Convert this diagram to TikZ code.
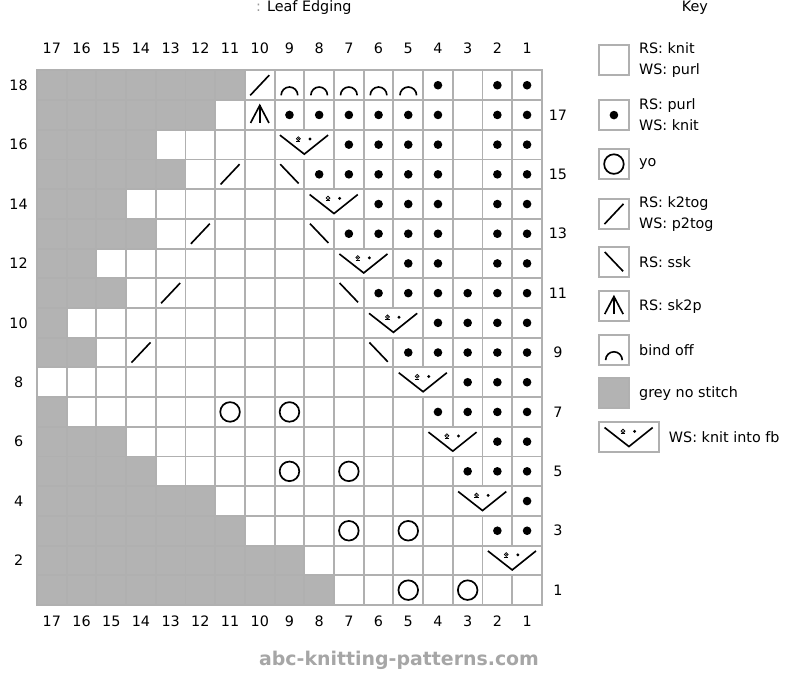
\documentclass[tikz,border=0pt]{standalone}
\usepackage{fontspec}
\setmainfont{DejaVu Sans}
\usetikzlibrary{positioning}
\definecolor{gridgrey}{HTML}{B0B0B0}
\definecolor{nostitch}{HTML}{B3B3B3}

\begin{document}
\begin{tikzpicture}[
    x=0.8cm,
    y=0.8cm,
    font=\fontsize{11}{16}\selectfont,
    cell/.style={
        draw=gridgrey,
        line width=1.5pt,
        fill=white,
        minimum width=0.8cm,
        minimum height=0.8cm,
        inner sep=0pt,
        outer sep=0pt
    },
    stroke/.style={
        line width=1.25pt,
        draw=black
    },
    keytext/.style={
        inner sep=0pt,
        align=left
    }
]

    \useasboundingbox (-1.246,-2.694) rectangle (25.69,20.37);

    % Políčka diagramu (řada/počet šedých políček)
    \foreach \r/\g in {
        1/10,2/9,3/7,4/6,5/4,6/3,7/1,8/0,9/2,
        10/1,11/3,12/2,13/4,14/3,15/5,16/4,17/6,18/7
    }{
        \def\fbcol{100}
        \ifodd\r\else\ifnum\r<18 \pgfmathtruncatemacro{\fbcol}{\r/2}\fi\fi
        \foreach \c in {1,...,17}{
            \ifnum\c>\numexpr17-\g\relax
                \node[cell, fill=nostitch] (k\c-\r) at ({17.5-\c},{\r-0.5}) {};
            \else\ifnum\c=\fbcol\else\ifnum\c=\numexpr\fbcol+1\relax\else
                \node[cell] (k\c-\r) at ({17.5-\c},{\r-0.5}) {};
            \fi\fi\fi
        }
    }

    % Dvojitá políčka
    \foreach \k in {1,...,8}{
        \node[cell, minimum width=1.6cm] (fb\k) at ({17-\k},{2*\k-0.5}) {};
    }

    % Legenda
    \foreach \i/\y in {1/18.355,2/16.495,3/14.845,4/13.165,5/11.545,6/10.065,7/8.585}{
        \node[cell] (key\i) at (19.425,\y) {};
    }
    \node[cell, fill=nostitch] (key8) at (19.425,7.135) {};
    \node[cell, minimum width=1.6cm] (key9) at (19.93,5.655) {};

    \node[keytext, right=0.272cm of key1] (txt1) {RS: knit\\WS: purl};
    \node[keytext, right=0.272cm of key2] (txt2) {RS: purl\\WS: knit};
    \node[keytext, right=0.272cm of key3] (txt3) {yo};
    \node[keytext, right=0.272cm of key4] (txt4) {RS: k2tog\\WS: p2tog};
    \node[keytext, right=0.272cm of key5] (txt5) {RS: ssk};
    \node[keytext, right=0.272cm of key6] (txt6) {RS: sk2p};
    \node[keytext, right=0.272cm of key7] (txt7) {bind off};
    \node[keytext, right=0.272cm of key8] (txt8) {grey no stitch};
    \node[keytext, right=0.272cm of key9] (txt9) {WS: knit into fb};

    % Obrace (purl)
    \foreach \r/\cols in {
        18/{4,2,1},17/{9,8,7,6,5,4,2,1},16/{7,6,5,4,2,1},
        15/{8,7,6,5,4,2,1},14/{6,5,4,2,1},13/{7,6,5,4,2,1},
        12/{5,4,2,1},11/{6,5,4,3,2,1},10/{4,3,2,1},9/{5,4,3,2,1},
        8/{3,2,1},7/{4,3,2,1},6/{2,1},5/{3,2,1},4/{1},3/{2,1}}{
        \foreach \c in \cols{
            \fill (k\c-\r.center) circle (0.145);
        }
    }
    \fill (key2.center) circle (0.145);

    % Nahození (yo)
    \foreach \n in {k11-7,k9-7,k9-5,k7-5,k7-3,k5-3,k5-1,k3-1,key3}{
        \draw[line width=1.3pt] (\n.center) circle (0.33);
    }

    % k2tog
    \foreach \n in {k10-18,k11-15,k12-13,k13-11,k14-9,key4}{
        \draw[stroke] ([shift={(-0.32,-0.34)}]\n.center) -- ([shift={(0.32,0.34)}]\n.center);
    }

    % ssk
    \foreach \n in {k9-15,k8-13,k7-11,k6-9,key5}{
        \draw[stroke] ([shift={(-0.31,0.34)}]\n.center) -- ([shift={(0.31,-0.31)}]\n.center);
    }

    % sk2p
    \foreach \n in {k10-17,key6}{
        \draw[stroke] ([shift={(-0.31,-0.27)}]\n.center) -- ([shift={(0,0.32)}]\n.center)
            -- ([shift={(0.31,-0.27)}]\n.center);
        \draw[stroke] ([shift={(0,0.32)}]\n.center) -- ([shift={(0,-0.27)}]\n.center);
    }

    % Uzavírání (bind off)
    \foreach \n in {k9-18,k8-18,k7-18,k6-18,k5-18,key7}{
        \draw[stroke] ([shift={(0.28,-0.34)}]\n.center) arc[start angle=0, end angle=180, radius=0.28];
    }

    % Dvě oka z jednoho (kfb)
    \foreach \n in {fb1,fb2,fb3,fb4,fb5,fb6,fb7,fb8,key9}{
        \draw[stroke] ([shift={(-0.82,0.32)}]\n.center) -- ([shift={(0,-0.32)}]\n.center)
            -- ([shift={(0.8,0.32)}]\n.center);
        \draw[line width=0.55pt] ([shift={(-0.2,0.2)}]\n.center) circle (0.065);
        \fill ([shift={(-0.2,0.2)}]\n.center) circle (0.022);
        \draw[line width=0.55pt] ([shift={(-0.27,0.11)}]\n.center) -- ([shift={(-0.13,0.11)}]\n.center);
        \fill ([shift={(0.19,0.19)}]\n.center) circle (0.055);
    }

    % Čísla sloupců a řad
    \foreach \c in {1,...,17}{
        \node (top\c) at ({17.5-\c},18.75) {\c};
        \node (bot\c) at ({17.5-\c},-0.54) {\c};
    }
    \foreach \r in {2,4,...,18}{
        \node (left\r) at (-0.62,{\r-0.5}) {\r};
    }
    \foreach \r in {1,3,...,17}{
        \node (right\r) at (17.54,{\r-0.5}) {\r};
    }

    \node[anchor=west, inner sep=0pt] (title) at (7.37,20.1) {{\color{black!40}:} Leaf Edging};
    \node (keytitle) at (22.15,20.1) {Key};

    \node[font=\fontsize{14.5}{16}\selectfont\bfseries, text=black!35] (site) at (12.19,-1.85)
        {abc-knitting-patterns.com};

\end{tikzpicture}
\end{document}
